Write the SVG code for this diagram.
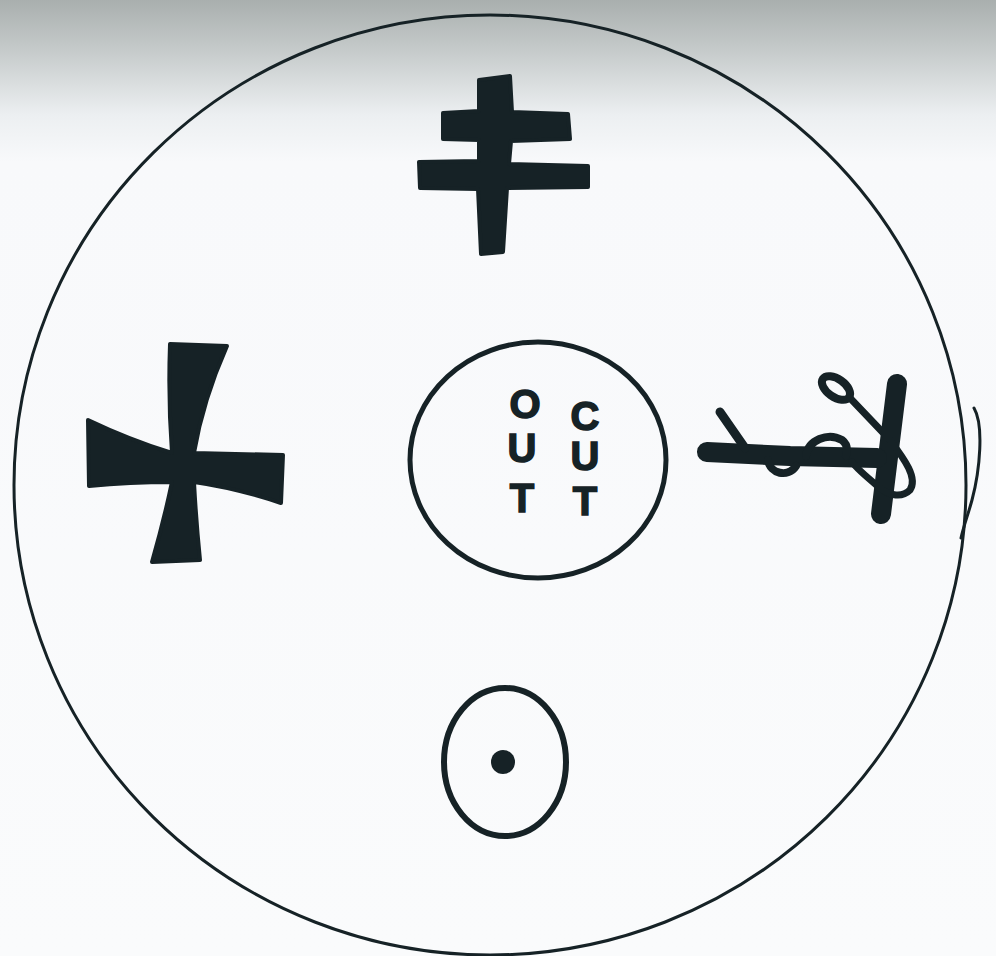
<svg xmlns="http://www.w3.org/2000/svg" width="996" height="956" viewBox="0 0 996 956">
<defs>
<linearGradient id="bg" x1="0" y1="0" x2="0" y2="1">
<stop offset="0" stop-color="#a9afae"/>
<stop offset="0.05" stop-color="#c4c9c9"/>
<stop offset="0.12" stop-color="#eceff1"/>
<stop offset="0.17" stop-color="#f8f9fb"/>
<stop offset="1" stop-color="#fafbfc"/>
</linearGradient>
<style>
.ink{fill:none;stroke:#162226;stroke-linecap:round;stroke-linejoin:round}
.fill{fill:#162226;stroke:#162226;stroke-linejoin:round}
.lt{font-family:"Liberation Sans",Arial,sans-serif;font-weight:bold;font-size:40px;fill:#162226;stroke:#162226;stroke-width:1.5;text-anchor:middle}
</style>
</defs>
<rect width="996" height="956" fill="url(#bg)"/>
<g id="outer">
<ellipse class="ink" cx="490" cy="485" rx="476" ry="470" stroke-width="3"/>
<path class="ink" stroke-width="3" d="M974 408 C984 425 980 470 972 500 C968 515 963 528 961 538"/>
</g>
<g id="top-cross">
<path class="fill" stroke-width="4" d="M479 80 L510 76 L512 112 L568 114 L570 139 L511 141 L509 164 L588 166 L588 187 L507 188 L503 252 L481 254 L478 189 L420 188 L419 162 L479 161 L479 140 L443 139 L443 113 L479 111 Z"/>
</g>
<g id="left-cross">
<path class="fill" stroke-width="4" d="M170 344 L227 346 Q203 400 194 453 L283 455 L281 503 Q236 488 194 482 Q196 520 200 560 L152 562 Q164 520 172 482 Q130 482 89 486 L88 420 Q130 440 172 453 Q168 400 170 344 Z"/>
</g>
<g id="cutout">
<ellipse class="ink" cx="538" cy="460" rx="128" ry="118" stroke-width="5"/>
<text class="lt" x="525" y="418">O</text>
<text class="lt" x="522" y="462">U</text>
<text class="lt" x="522" y="512">T</text>
<text class="lt" x="585" y="430">C</text>
<text class="lt" x="585" y="470">U</text>
<text class="lt" x="585" y="515">T</text>
</g>
<g id="right-symbol">
<path class="ink" stroke-width="20" d="M897 384 L881 514"/>
<path class="ink" stroke-width="20" d="M707 452 L790 456 L877 458"/>
<path class="ink" stroke-width="9" d="M720 412 L745 448"/>
<ellipse class="ink" cx="836" cy="388" rx="16" ry="9" transform="rotate(35 836 388)" stroke-width="8"/>
<path class="ink" stroke-width="7" d="M850 398 L890 440 C905 460 918 478 910 490 C902 498 890 496 880 488 C868 478 858 470 852 462"/>
<path class="ink" stroke-width="8" d="M806 456 C808 440 828 432 842 440 C850 446 846 456 846 456"/>
<path class="ink" stroke-width="8" d="M768 460 C770 474 788 478 796 466"/>
</g>
<g id="bullseye">
<ellipse class="ink" cx="505" cy="762" rx="61" ry="74" stroke-width="6"/>
<circle cx="503" cy="762" r="12" fill="#162226"/>
</g>
</svg>
